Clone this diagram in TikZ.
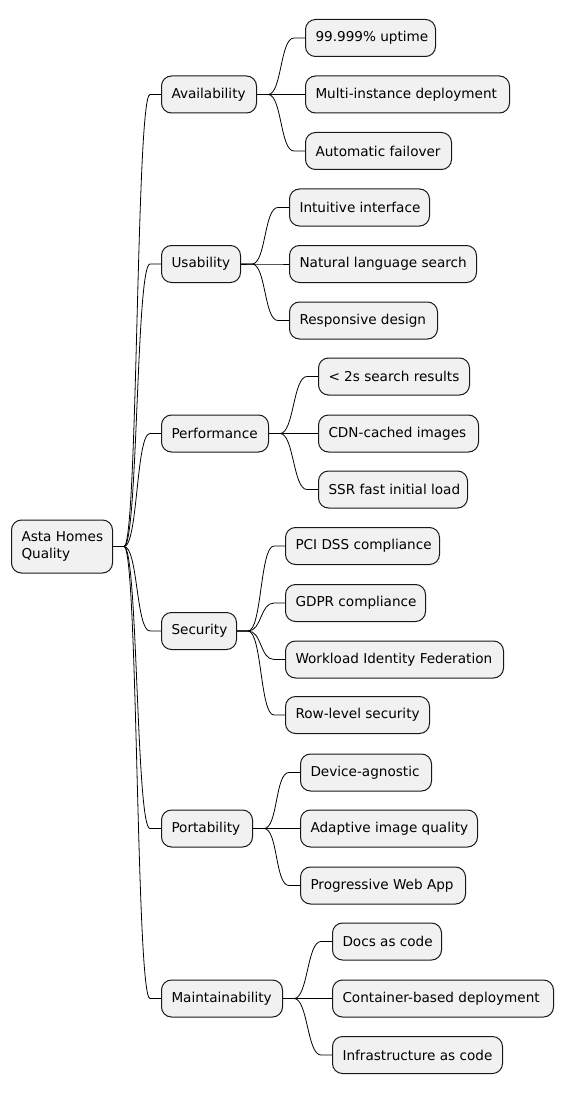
\documentclass[tikz,border=0pt]{standalone}
\usepackage{fontspec}
\setmainfont{DejaVu Sans}
\usetikzlibrary{calc}
\definecolor{boxfill}{HTML}{F1F1F1}
\definecolor{boxline}{HTML}{181818}
\tikzset{
  mmbox/.style={draw=boxline, fill=boxfill, line width=1pt, rounded corners=10pt,
    minimum height=37pt, inner xsep=10pt, inner ysep=4pt, anchor=west,
    font=\fontsize{13.6}{17}\selectfont, text=black},
  link/.style={draw=black, line width=0.8pt}
}
\newcommand\mmlink[2]{\draw[link] (#1.east) -- ($(#1.east)+(11,0)$) .. controls ($(#1.east)+(25,0)$) and ($(#2.west)+(-25,0)$) .. ($(#2.west)+(-11,0)$) -- (#2.west);}
\newcommand\mmnode[5]{\node[mmbox] (#1) at (#2,#3) {\makebox[\dimexpr#4pt-20pt\relax][l]{#5}};}
\begin{document}
\begin{tikzpicture}[x=1pt,y=-1pt]
\useasboundingbox (0,0) rectangle (564,1094);
% root
\node[mmbox, minimum width=101pt, minimum height=53pt, align=left] (root) at (11,546.5) {\makebox[81pt][l]{Asta Homes}\\Quality};
% level 1
\mmnode{av}{161}{94.5}{95}{Availability}
\mmnode{us}{161}{264}{79}{Usability}
\mmnode{pe}{161}{433.5}{107}{Performance}
\mmnode{se}{161}{631}{75}{Security}
\mmnode{po}{161}{828.5}{91}{Portability}
\mmnode{ma}{161}{998.5}{121}{Maintainability}
% level 2
\mmnode{a1}{305}{38}{130}{99.999\% uptime}
\mmnode{a2}{305}{94.5}{204}{Multi-instance deployment}
\mmnode{a3}{305}{151}{146}{Automatic failover}
\mmnode{u1}{289}{207.5}{140}{Intuitive interface}
\mmnode{u2}{289}{264}{187}{Natural language search}
\mmnode{u3}{289}{320.5}{148}{Responsive design}
\mmnode{p1}{318}{376.5}{151}{< 2s search results}
\mmnode{p2}{318}{433.5}{160}{CDN-cached images}
\mmnode{p3}{318}{489.5}{149}{SSR fast initial load}
\mmnode{s1}{285}{546}{154}{PCI DSS compliance}
\mmnode{s2}{285}{603}{140}{GDPR compliance}
\mmnode{s3}{285}{659.5}{218}{Workload Identity Federation}
\mmnode{s4}{285}{715}{144}{Row-level security}
\mmnode{o1}{300}{772.5}{131}{Device-agnostic}
\mmnode{o2}{300}{828.5}{177}{Adaptive image quality}
\mmnode{o3}{300}{885.5}{165}{Progressive Web App}
\mmnode{m1}{332}{941.5}{109}{Docs as code}
\mmnode{m2}{332}{998.5}{221}{Container-based deployment}
\mmnode{m3}{332}{1055}{170}{Infrastructure as code}
% links
\foreach \c in {av,us,pe,se,po,ma} {\mmlink{root}{\c}}
\foreach \c in {a1,a2,a3} {\mmlink{av}{\c}}
\foreach \c in {u1,u2,u3} {\mmlink{us}{\c}}
\foreach \c in {p1,p2,p3} {\mmlink{pe}{\c}}
\foreach \c in {s1,s2,s3,s4} {\mmlink{se}{\c}}
\foreach \c in {o1,o2,o3} {\mmlink{po}{\c}}
\foreach \c in {m1,m2,m3} {\mmlink{ma}{\c}}
\end{tikzpicture}
\end{document}
